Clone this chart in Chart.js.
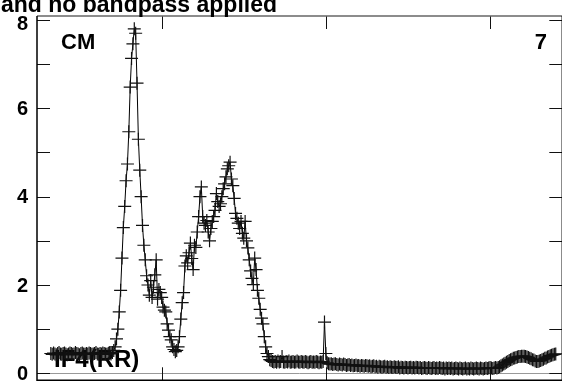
<!DOCTYPE html>
<html>
<head>
<meta charset="utf-8">
<script src="https://cdn.jsdelivr.net/npm/chart.js@4/dist/chart.umd.min.js"></script>
<style>
  html, body { margin: 0; padding: 0; background: #fff; overflow: hidden; }
  #wrap { width: 570px; height: 388px; }
</style>
</head>
<body>
<div id="wrap"><canvas id="myChart" width="570" height="388"></canvas></div>
<script>
// sample number of the first point, one point per sample after that
var firstSample = 39;

// power per sample
var power = [
  0.45,0.43,0.46,0.44,0.42,0.45,0.47,0.44,0.43,0.45,
  0.46,0.44,0.42,0.44,0.46,0.45,0.43,0.44,0.47,0.45,
  0.44,0.42,0.45,0.46,0.44,0.43,0.45,0.44,0.46,0.45,
  0.43,0.44,0.45,0.47,0.44,0.43,0.45,0.44,0.46,0.45,
  0.44,0.43,0.45,0.46,0.44,0.47,0.52,0.6,0.78,1.0,
  1.39,1.88,2.61,3.3,3.78,4.36,4.74,5.47,6.48,7.13,
  7.46,7.8,7.7,6.57,5.3,4.6,4.0,3.35,2.9,2.57,
  2.21,2.0,1.77,2.1,1.72,1.95,2.23,2.57,1.68,1.9,
  1.83,1.72,1.5,1.43,1.39,1.12,0.98,0.83,0.76,0.6,
  0.54,0.49,0.52,0.6,0.83,1.23,1.6,1.83,2.43,2.66,
  2.5,2.73,2.95,2.6,2.35,2.9,2.85,3.2,3.55,4.0,
  4.22,3.55,3.4,3.35,3.46,3.2,3.0,3.28,3.44,3.55,
  3.69,4.07,3.89,3.78,3.84,4.0,4.18,4.29,4.45,4.63,
  4.7,4.78,4.4,4.25,3.96,3.62,3.51,3.4,3.28,3.44,
  3.17,3.06,3.44,3.0,2.84,2.57,2.32,2.15,2.01,2.61,
  2.35,1.88,1.7,1.45,1.25,1.12,0.83,0.6,0.45,0.38,
  0.31,0.29,0.27,0.26,0.27,0.25,0.28,0.26,0.27,0.38,
  0.26,0.25,0.27,0.26,0.28,0.25,0.26,0.27,0.25,0.26,
  0.28,0.26,0.25,0.27,0.26,0.25,0.27,0.26,0.24,0.26,
  0.27,0.25,0.26,0.25,0.27,0.26,0.24,0.26,0.25,0.27,
  1.16,0.45,0.24,0.22,0.21,0.22,0.2,0.21,0.22,0.2,
  0.19,0.21,0.2,0.19,0.21,0.2,0.18,0.19,0.2,0.18,
  0.19,0.17,0.18,0.19,0.17,0.18,0.16,0.18,0.17,0.16,
  0.18,0.17,0.16,0.17,0.15,0.16,0.17,0.15,0.16,0.14,
  0.16,0.15,0.14,0.15,0.16,0.14,0.15,0.13,0.15,0.14,
  0.13,0.15,0.14,0.13,0.15,0.12,0.14,0.13,0.12,0.14,
  0.13,0.12,0.13,0.14,0.12,0.13,0.12,0.14,0.13,0.12,
  0.13,0.11,0.12,0.13,0.12,0.11,0.13,0.12,0.11,0.12,
  0.13,0.11,0.12,0.11,0.13,0.12,0.11,0.12,0.1,0.12,
  0.11,0.12,0.11,0.12,0.1,0.11,0.12,0.11,0.1,0.12,
  0.11,0.1,0.11,0.12,0.1,0.11,0.1,0.12,0.11,0.1,
  0.11,0.12,0.11,0.1,0.12,0.11,0.1,0.11,0.12,0.11,
  0.12,0.13,0.12,0.11,0.12,0.13,0.12,0.13,0.15,0.17,
  0.19,0.21,0.23,0.25,0.27,0.29,0.31,0.32,0.34,0.35,
  0.36,0.37,0.38,0.38,0.39,0.39,0.39,0.38,0.37,0.36,
  0.34,0.33,0.31,0.3,0.28,0.27,0.27,0.28,0.29,0.31,
  0.32,0.34,0.35,0.37,0.38,0.4,0.41,0.42,0.43,0.44
];

var yLabelled = [0, 2, 4, 6, 8];
var xTicks = [120, 240, 360];

var titleText = 'and no bandpass applied';
var chanLabel = 'CM';
var panelLabel = '7';
var traceLabel = 'IF4(RR)';

var fam = '"Liberation Sans", Arial, sans-serif';

var points = power.map(function(v, i) {
  return { x: firstSample + i, y: v };
});

// inward tick marks, frame and the labels on the panel
var frame = {
  id: 'frame',
  beforeDatasetsDraw: function(chart) {
    var ctx = chart.ctx;
    ctx.save();
    ctx.font = 'bold 24px ' + fam;
    ctx.fillStyle = '#000';
    ctx.fillText(traceLabel, 54, 367);
    ctx.restore();
  },
  afterDatasetsDraw: function(chart) {
    var ctx = chart.ctx, a = chart.chartArea;
    var xs = chart.scales.x, ys = chart.scales.y;
    var len = 13;
    ctx.save();
    ctx.lineWidth = 1;
    ctx.strokeStyle = '#111';
    ctx.beginPath();
    ys.ticks.forEach(function(t) {
      var py = Math.round(ys.getPixelForValue(t.value)) + 0.5;
      ctx.moveTo(a.left, py); ctx.lineTo(a.left + len, py);
      ctx.moveTo(a.right - len, py); ctx.lineTo(a.right, py);
    });
    xs.ticks.forEach(function(t) {
      var px = Math.round(xs.getPixelForValue(t.value)) + 0.5;
      ctx.moveTo(px, a.top); ctx.lineTo(px, a.top + len);
      ctx.moveTo(px, a.bottom - len); ctx.lineTo(px, a.bottom);
    });
    ctx.stroke();

    ctx.lineWidth = 1.5;
    ctx.strokeStyle = '#666';
    ctx.beginPath();
    ctx.moveTo(a.left, a.top); ctx.lineTo(a.right, a.top);
    ctx.stroke();
    ctx.strokeStyle = '#000';
    ctx.beginPath();
    ctx.moveTo(a.left, a.top); ctx.lineTo(a.left, a.bottom);
    ctx.lineTo(a.right, a.bottom); ctx.lineTo(a.right, a.top);
    ctx.stroke();

    ctx.fillStyle = '#000';
    // y tick labels, the top one kept inside the canvas
    ctx.font = 'bold 20px ' + fam;
    ctx.textAlign = 'right';
    ctx.textBaseline = 'middle';
    yLabelled.forEach(function(v) {
      var py = Math.max(ys.getPixelForValue(v) + 1, 24);
      ctx.fillText(String(v), a.left - 9, py);
    });

    ctx.textBaseline = 'alphabetic';
    ctx.textAlign = 'left';
    ctx.font = 'bold 23px ' + fam;
    ctx.fillText(titleText, 1, 12);
    ctx.font = 'bold 22px ' + fam;
    ctx.fillText(chanLabel, 61, 49);
    ctx.textAlign = 'right';
    ctx.fillText(panelLabel, 547, 49);
    ctx.restore();
  }
};

var myChart = new Chart(document.getElementById('myChart'), {
  type: 'line',
  data: {
    datasets: [{
      label: traceLabel,
      data: points,
      borderColor: '#000',
      borderWidth: 1,
      pointStyle: 'cross',
      pointRadius: 6.5,
      pointBorderColor: '#111',
      pointBorderWidth: 1.2,
      tension: 0,
      fill: false
    }]
  },
  options: {
    responsive: false,
    animation: false,
    events: [],
    devicePixelRatio: 1,
    layout: { padding: { top: 16, right: 2, bottom: 4, left: 0 } },
    scales: {
      x: {
        type: 'linear',
        min: 28.9,
        max: 412.8,
        afterBuildTicks: function(scale) {
          scale.ticks = xTicks.map(function(v) { return { value: v }; });
        },
        afterFit: function(scale) { scale.height = 0; },
        ticks: { display: false },
        grid: { display: false },
        border: { display: false }
      },
      y: {
        min: -0.157,
        max: 8.09,
        afterFit: function(scale) { scale.width = 37; },
        ticks: {
          display: false,
          stepSize: 1,
          includeBounds: false
        },
        grid: {
          drawTicks: false,
          lineWidth: 1,
          color: function(c) { return c.tick && c.tick.value === 0 ? '#999' : 'rgba(0,0,0,0)'; }
        },
        border: { display: false }
      }
    },
    plugins: {
      legend: { display: false },
      tooltip: { enabled: false }
    }
  },
  plugins: [frame]
});
</script>
</body>
</html>
